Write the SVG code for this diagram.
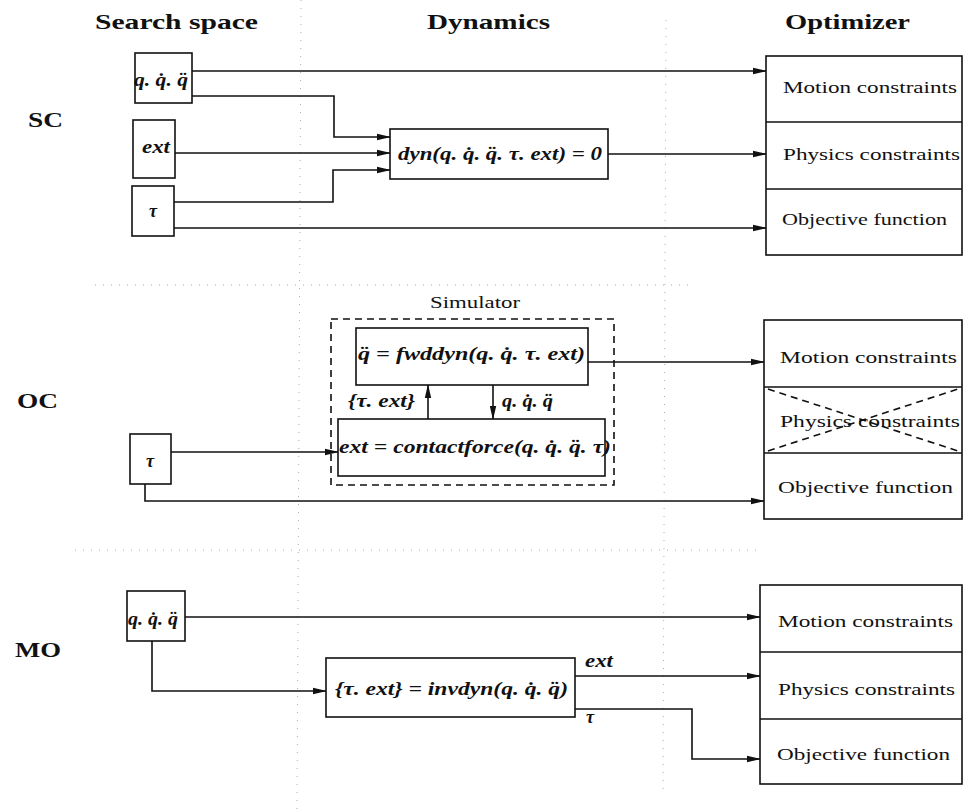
<svg xmlns="http://www.w3.org/2000/svg" width="963" height="809" viewBox="0 0 963 809" font-family="Liberation Serif, DejaVu Serif, serif">
<style>
.hdr{font-family:'Liberation Serif',Tinos,'DejaVu Serif',serif;font-weight:bold;font-size:21px;fill:#111}
.lbl{font-family:'Liberation Serif',Tinos,'DejaVu Serif',serif;font-size:17px;fill:#111}
.m{font-family:'Liberation Serif',Tinos,'DejaVu Serif',serif;font-style:italic;font-weight:bold;font-size:18px;fill:#111}
.box{fill:#fff;stroke:#111;stroke-width:1.6}
.ln{fill:none;stroke:#111;stroke-width:1.6}
.arr{fill:none;stroke:#111;stroke-width:1.6;marker-end:url(#ah)}
.grid{fill:none;stroke:#aaa;stroke-width:1;stroke-dasharray:1 7}
.dash{fill:none;stroke:#111;stroke-width:1.6;stroke-dasharray:7 5}
</style>
<defs>
<marker id="ah" markerWidth="14" markerHeight="8" refX="13" refY="4" orient="auto" markerUnits="userSpaceOnUse">
<path d="M0,0.8 L14,4 L0,7.2 z" fill="#111"/>
</marker>
</defs>
<rect width="963" height="809" fill="#fff"/>
<g id="guides">
<line class="grid" x1="301" y1="0" x2="297" y2="809"/>
<line class="grid" x1="666" y1="20" x2="663" y2="790"/>
<line class="grid" x1="95" y1="285" x2="690" y2="285"/>
<line class="grid" x1="75" y1="550" x2="760" y2="550"/>
</g>
<g id="headers">
<text class="hdr" x="95" y="29" textLength="163" lengthAdjust="spacingAndGlyphs">Search space</text>
<text class="hdr" x="427" y="29" textLength="123" lengthAdjust="spacingAndGlyphs">Dynamics</text>
<text class="hdr" x="785" y="29" textLength="125" lengthAdjust="spacingAndGlyphs">Optimizer</text>
<text class="hdr" x="28" y="127" textLength="35" lengthAdjust="spacingAndGlyphs">SC</text>
<text class="hdr" x="17" y="408" textLength="41" lengthAdjust="spacingAndGlyphs">OC</text>
<text class="hdr" x="15" y="657" textLength="46" lengthAdjust="spacingAndGlyphs">MO</text>
</g>
<g id="connectors">
<path class="arr" d="M192,71 H766"/>
<path class="arr" d="M192,96 H334 V137 H390"/>
<path class="arr" d="M175,153 H390"/>
<path class="arr" d="M174,202 H333 V170 H390"/>
<path class="arr" d="M174,228 H766"/>
<path class="arr" d="M608,154 H766"/>
<path class="arr" d="M171,452 H338"/>
<path class="arr" d="M145,484 V501 H764"/>
<path class="arr" d="M588,362 H764"/>
<path class="arr" d="M428,419 V385"/>
<path class="arr" d="M493,385 V419"/>
<path class="arr" d="M185,617 H760"/>
<path class="arr" d="M152,641 V691 H326"/>
<path class="arr" d="M575,676 H760"/>
<path class="arr" d="M575,709 H692 V759 H760"/>
</g>
<g id="sc-q"><rect class="box" x="135" y="53" width="57" height="50"/><text class="m" x="134" y="86" textLength="54" lengthAdjust="spacingAndGlyphs">q. q̇. q̈</text></g>
<g id="sc-ext"><rect class="box" x="133" y="120" width="42" height="58"/><text class="m" x="142" y="153" textLength="28" lengthAdjust="spacingAndGlyphs">ext</text></g>
<g id="sc-tau"><rect class="box" x="132" y="186" width="42" height="50"/><text class="m" x="149" y="217">τ</text></g>
<g id="sc-dyn"><rect class="box" x="390" y="129" width="218" height="50"/><text class="m" x="398" y="160" textLength="204" lengthAdjust="spacingAndGlyphs">dyn(q. q̇. q̈. τ. ext) = 0</text></g>
<g id="sc-opt">
<rect class="box" x="766" y="56" width="196" height="199"/>
<line class="ln" x1="766" y1="122" x2="962" y2="122"/>
<line class="ln" x1="766" y1="189" x2="962" y2="189"/>
<text class="lbl" x="783" y="93" textLength="174" lengthAdjust="spacingAndGlyphs">Motion constraints</text>
<text class="lbl" x="783" y="160" textLength="177" lengthAdjust="spacingAndGlyphs">Physics constraints</text>
<text class="lbl" x="782" y="225" textLength="165" lengthAdjust="spacingAndGlyphs">Objective function</text>
</g>
<g id="oc-sim">
<rect class="dash" x="331" y="319" width="283" height="166"/>
<text class="lbl" x="430" y="308" textLength="90" lengthAdjust="spacingAndGlyphs">Simulator</text>
</g>
<g id="oc-fwd"><rect class="box" x="356" y="328" width="232" height="57"/><text class="m" x="358" y="360" textLength="227" lengthAdjust="spacingAndGlyphs">q̈ = fwddyn(q. q̇. τ. ext)</text></g>
<g id="oc-contact"><rect class="box" x="338" y="419" width="267" height="57"/><text class="m" x="339" y="453" textLength="272" lengthAdjust="spacingAndGlyphs">ext = contactforce(q. q̇. q̈. τ)</text></g>
<g id="oc-labels">
<text class="m" x="348" y="407" textLength="67" lengthAdjust="spacingAndGlyphs">{τ. ext}</text>
<text class="m" x="502" y="407" textLength="51" lengthAdjust="spacingAndGlyphs">q. q̇. q̈</text>
</g>
<g id="oc-tau"><rect class="box" x="130" y="434" width="41" height="50"/><text class="m" x="146" y="467">τ</text></g>
<g id="oc-opt">
<rect class="box" x="764" y="320" width="198" height="199"/>
<line class="ln" x1="764" y1="387" x2="962" y2="387"/>
<line class="ln" x1="764" y1="453" x2="962" y2="453"/>
<line class="dash" x1="768" y1="389" x2="958" y2="451" stroke-width="1.2"/>
<line class="dash" x1="768" y1="451" x2="958" y2="389" stroke-width="1.2"/>
<text class="lbl" x="780" y="363" textLength="177" lengthAdjust="spacingAndGlyphs">Motion constraints</text>
<text class="lbl" x="780" y="427" textLength="180" lengthAdjust="spacingAndGlyphs">Physics constraints</text>
<text class="lbl" x="778" y="493" textLength="175" lengthAdjust="spacingAndGlyphs">Objective function</text>
</g>
<g id="mo-q"><rect class="box" x="127" y="591" width="58" height="50"/><text class="m" x="128" y="625" textLength="50" lengthAdjust="spacingAndGlyphs">q. q̇. q̈</text></g>
<g id="mo-inv"><rect class="box" x="326" y="658" width="249" height="59"/><text class="m" x="335" y="695" textLength="233" lengthAdjust="spacingAndGlyphs">{τ. ext} = invdyn(q. q̇. q̈)</text></g>
<g id="mo-labels">
<text class="m" x="585" y="667" textLength="28" lengthAdjust="spacingAndGlyphs">ext</text>
<text class="m" x="586" y="723">τ</text>
</g>
<g id="mo-opt">
<rect class="box" x="760" y="585" width="202" height="199"/>
<line class="ln" x1="760" y1="652" x2="962" y2="652"/>
<line class="ln" x1="760" y1="719" x2="962" y2="719"/>
<text class="lbl" x="778" y="627" textLength="175" lengthAdjust="spacingAndGlyphs">Motion constraints</text>
<text class="lbl" x="778" y="695" textLength="177" lengthAdjust="spacingAndGlyphs">Physics constraints</text>
<text class="lbl" x="777" y="760" textLength="173" lengthAdjust="spacingAndGlyphs">Objective function</text>
</g>
</svg>
